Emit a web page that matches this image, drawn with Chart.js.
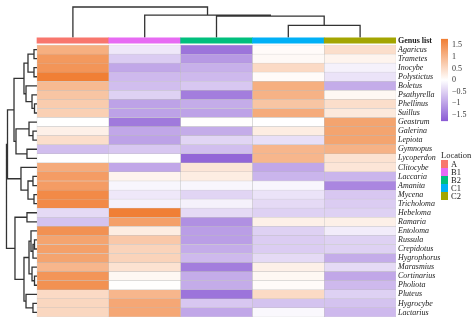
<!DOCTYPE html>
<html>
<head>
<meta charset="utf-8">
<script src="https://cdn.jsdelivr.net/npm/chart.js@4.4.0/dist/chart.umd.min.js"></script>
<style>
  html, body { margin: 0; padding: 0; background: #fff; }
  #wrap { position: relative; width: 474px; height: 325px; overflow: hidden; }
  #main { position: absolute; left: 0; top: 0; }
  #scale { position: absolute; left: 436px; top: 30px; }
  #loc { position: absolute; left: 441px; top: 150px; font-family: 'Liberation Serif', serif; font-size: 8.5px; color: #222; }
  #loc .title { height: 10px; line-height: 10px; }
  #loc .item { height: 8px; line-height: 8px; display: flex; align-items: center; }
  #loc .sw { width: 7px; height: 8px; margin-right: 3px; }
</style>
</head>
<body>
<div id="wrap">
  <canvas id="main" width="474" height="325"></canvas>
  <canvas id="scale" width="38" height="100"></canvas>
  <div id="loc"><div class="title">Location</div></div>
</div>
<script>
const genera = ['Agaricus', 'Trametes', 'Inocybe', 'Polystictus', 'Boletus', 'Psathyrella', 'Phellinus', 'Suillus',
  'Geastrum', 'Galerina', 'Lepiota', 'Gymnopus', 'Lycoperdon', 'Clitocybe', 'Laccaria', 'Amanita', 'Mycena',
  'Tricholoma', 'Hebeloma', 'Ramaria', 'Entoloma', 'Russula', 'Crepidotus', 'Hygrophorus', 'Marasmius',
  'Cortinarius', 'Pholiota', 'Pluteus', 'Hygrocybe', 'Lactarius'];
const locations = ['A', 'B1', 'B2', 'C1', 'C2'];
const locationColors = ['#F8766D', '#E76BF3', '#00BF7D', '#00B0F6', '#A3A500'];

// scaled abundance per location, same order as genera
const valA  = [1.1, 1.4, 1.45, 1.75, 0.95, 0.8, 0.7, 0.65, 0, 0.2, 0.45, -0.7, 0, 1.15, 1.35, 1.35, 1.6, 1.6,
  -0.4, -0.65, 1.5, 1.25, 1.3, 1.25, 1.0, 1.45, 1.5, 0.5, 0.55, 0.55];
const valB1 = [-0.25, -0.55, -0.95, -0.75, -0.7, -0.5, -1.0, -1.0, -1.45, -0.95, -1.0, -0.6, 0, -0.95, 0.15, -0.1,
  -0.25, -0.15, 1.75, 1.3, 0.25, 0.75, 0.6, 0.6, 0.4, 0.1, 0.02, 1.0, 1.2, 1.2];
const valB2 = [-1.5, -1.1, -0.85, -0.75, -0.6, -1.4, -0.9, -1.0, 0.02, -0.9, -0.45, -0.7, -1.65, 0.35, 0.25, -0.1,
  -0.45, -0.15, -0.4, -1.2, -1.05, -1.05, -0.9, -0.75, -1.4, -0.9, -0.9, -1.5, -0.6, -0.95];
const valC1 = [0.05, 0.08, 0.5, 0.05, 1.1, 1.05, 0.8, 1.15, 0, 0.25, -0.35, 1.0, 1.0, -0.95, -0.8, -0.1, -0.3, -0.4,
  -0.5, 0.2, -0.5, -0.55, -0.55, -0.4, 0.2, 0.1, 0.05, 0.5, -0.65, -0.08];
const valC2 = [0.45, 0.15, -0.15, -0.3, -0.9, 0.1, 0.45, 0.3, 1.25, 1.25, 1.25, 1.05, 0.4, 0.35, -0.8, -1.3, -0.6,
  -0.55, -0.5, 0.2, -0.2, -0.5, -0.5, -0.9, -0.4, -0.95, -0.75, -0.5, -0.65, -0.75];

// hclust style merges: negative = leaf (1-based), positive = earlier merge
const rowMerge = [[-1, -2], [-3, -4], [1, 2], [-7, -8], [-6, 4], [-5, 5], [3, 6], [-10, -11], [-9, 8], [-12, -13],
  [9, 10], [7, 11], [-15, -16], [-17, -18], [13, 14], [-14, 15], [12, 16], [-19, -20], [-22, -23], [19, -24],
  [-21, 20], [-26, -27], [-25, 22], [21, 23], [-29, -30], [-28, 25], [24, 26], [18, 27], [17, 28]];
const rowHeight = [0.59, 0.59, 1.77, 0.49, 0.98, 2.16, 2.56, 0.79, 1.57, 1.97, 4.13, 4.52, 0.79, 0.59, 1.77, 3.15,
  5.8, 1.97, 0.49, 0.79, 1.18, 0.49, 0.98, 1.57, 0.79, 2.16, 2.56, 4.33, 6.0];
const colMerge = [[-4, -5], [-3, 1], [-2, 2], [-1, 3]];
const colHeight = [2.4, 4.2, 4.4, 6.0];

const colorbarTicks = [-1.5, -1, -0.5, 0, 0.5, 1, 1.5];
const cMin = -1.78, cMax = 1.78;

// layout in axis units
const X_MIN = -0.4735, X_MAX = 5, LEFT_SPAN = 0.425;
const Y_MIN = -4.691, Y_MAX = 29.5, TOP_LEAF = -1.33;

const purple = [138, 90, 212], orange = [240, 125, 50];
function heatColor(v) {
  const end = v < 0 ? purple : orange;
  const t = Math.min(1, Math.abs(v) / (v < 0 ? -cMin : cMax));
  const c = end.map(e => Math.round(255 + (e - 255) * t));
  return `rgb(${c[0]},${c[1]},${c[2]})`;
}

function dendroPoints(merge, height, leafPos, sideways) {
  const pos = [];
  const pts = [];
  const node = k => k < 0 ? {p: leafPos(-k - 1), h: 0} : {p: pos[k - 1], h: height[k - 1]};
  merge.forEach(([a, b], i) => {
    const na = node(a), nb = node(b), hi = height[i];
    pos.push((na.p + nb.p) / 2);
    [[na.p, na.h], [na.p, hi], [nb.p, hi], [nb.p, nb.h]].forEach(([p, v]) => {
      pts.push(sideways ? {x: v, y: p} : {x: p, y: v});
    });
    pts.push({x: null, y: null});
  });
  return pts;
}

const columns = [valA, valB1, valB2, valC1, valC2];
const cellSets = columns.map((vals, c) => ({
  type: 'bar',
  indexAxis: 'y',
  label: locations[c],
  data: vals.map((v, r) => ({x: [c, c + 1], y: r})),
  backgroundColor: vals.map(heatColor),
  borderColor: 'rgba(150,150,150,0.45)',
  borderWidth: 0.5,
  borderSkipped: false,
  grouped: false,
  barPercentage: 1,
  categoryPercentage: 1,
  xAxisID: 'x',
  yAxisID: 'y'
}));

const annotationSet = {
  type: 'bar',
  indexAxis: 'y',
  label: 'Location',
  data: locations.map((l, c) => ({x: [c, c + 1], y: -1})),
  backgroundColor: locationColors,
  borderWidth: 0,
  barThickness: 5.5,
  grouped: false,
  xAxisID: 'x',
  yAxisID: 'y'
};

const lineStyle = {
  type: 'line',
  borderColor: '#333',
  borderWidth: 1.3,
  pointRadius: 0,
  pointHoverRadius: 0,
  tension: 0,
  spanGaps: false,
  clip: false
};

const rootRow = Math.max(...rowHeight), rootCol = Math.max(...colHeight);
const kx = rootRow / LEFT_SPAN;
const ky = rootCol / (TOP_LEAF - Y_MIN);

new Chart(document.getElementById('main'), {
  type: 'bar',
  data: {
    datasets: [
      ...cellSets,
      annotationSet,
      {...lineStyle, label: 'rows', data: dendroPoints(rowMerge, rowHeight, r => r, true), xAxisID: 'xd', yAxisID: 'y'},
      {...lineStyle, label: 'cols', data: dendroPoints(colMerge, colHeight, c => c + 0.5, false), xAxisID: 'x', yAxisID: 'yd'}
    ]
  },
  options: {
    responsive: false,
    animation: false,
    events: [],
    layout: {padding: {left: 3, top: 7, bottom: 8, right: 0}},
    plugins: {legend: {display: false}, tooltip: {enabled: false}},
    scales: {
      x: {type: 'linear', display: false, offset: false, min: X_MIN, max: X_MAX},
      xd: {type: 'linear', display: false, offset: false, reverse: true, min: -X_MAX * kx, max: -X_MIN * kx},
      yd: {type: 'linear', display: false, offset: false, min: (TOP_LEAF - Y_MAX) * ky, max: (TOP_LEAF - Y_MIN) * ky},
      y: {
        type: 'linear',
        position: 'right',
        offset: false,
        reverse: true,
        min: Y_MIN,
        max: Y_MAX,
        grid: {display: false, drawTicks: false},
        border: {display: false},
        afterBuildTicks: s => { s.ticks = [-1, ...genera.map((g, i) => i)].map(v => ({value: v})); },
        afterFit: s => { s.width = 78; },
        ticks: {
          autoSkip: false,
          padding: 2,
          color: '#1a1a1a',
          callback: v => v === -1 ? 'Genus list' : genera[v],
          font: ctx => ctx.tick && ctx.tick.value === -1
            ? {family: 'Liberation Serif', size: 8, weight: 'bold', style: 'normal'}
            : {family: 'Liberation Serif', size: 8, style: 'italic'}
        }
      }
    }
  }
});

// colour key
new Chart(document.getElementById('scale'), {
  type: 'bar',
  data: {
    labels: [''],
    datasets: [{
      data: [[cMin, cMax]],
      barPercentage: 1,
      categoryPercentage: 1,
      borderWidth: 0,
      backgroundColor: ctx => {
        const ch = ctx.chart;
        if (!ch.chartArea) return null;
        const y = ch.scales.y;
        const g = ch.ctx.createLinearGradient(0, y.getPixelForValue(cMin), 0, y.getPixelForValue(cMax));
        for (let i = 0; i <= 20; i++) {
          g.addColorStop(i / 20, heatColor(cMin + (cMax - cMin) * i / 20));
        }
        return g;
      }
    }]
  },
  options: {
    responsive: false,
    animation: false,
    events: [],
    layout: {padding: {left: 5, top: 8, bottom: 8, right: 0}},
    plugins: {legend: {display: false}, tooltip: {enabled: false}},
    scales: {
      x: {display: false},
      y: {
        position: 'right',
        min: cMin,
        max: cMax,
        grid: {display: false, drawTicks: false},
        border: {display: false},
        afterBuildTicks: s => { s.ticks = colorbarTicks.map(v => ({value: v})); },
        afterFit: s => { s.width = 26; },
        ticks: {
          padding: 4,
          color: '#333',
          font: {family: 'Liberation Serif', size: 8},
          callback: v => v < 0 ? '\u2212' + Math.abs(v) : String(v)
        }
      }
    }
  }
});

const loc = document.getElementById('loc');
locations.forEach((l, i) => {
  const row = document.createElement('div');
  row.className = 'item';
  row.innerHTML = `<span class="sw" style="background:${locationColors[i]}"></span>${l}`;
  loc.appendChild(row);
});
</script>
</body>
</html>
